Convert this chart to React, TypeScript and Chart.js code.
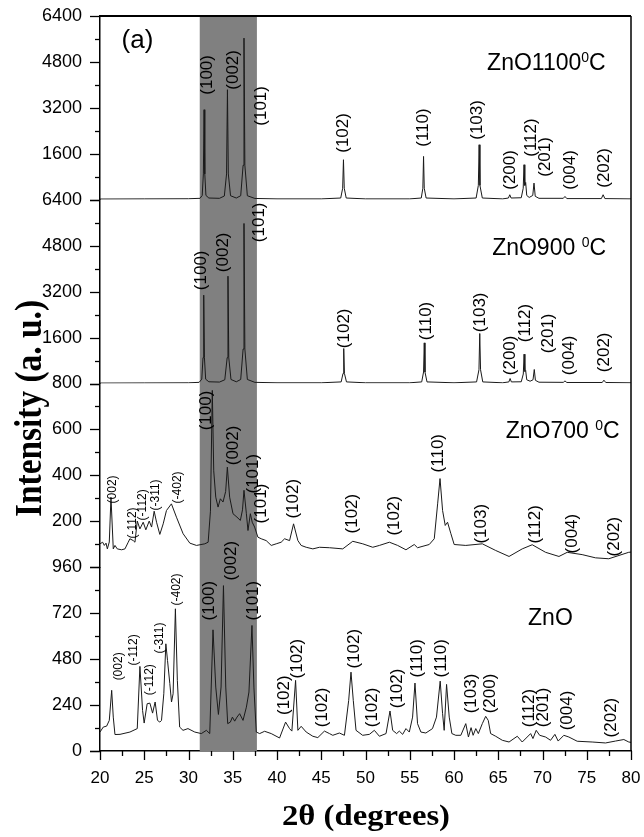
import React, { useEffect, useRef } from 'react';
import { Chart, registerables } from 'chart.js';

Chart.register(...registerables);

// ---------- axis ticks ----------
const xMajorTicks = [20, 25, 30, 35, 40, 45, 50, 55, 60, 65, 70, 75, 80];
const xMinorTicks = [22.5, 27.5, 32.5, 37.5, 42.5, 47.5, 52.5, 57.5, 62.5, 67.5, 72.5, 77.5];

const y1100Labels = [1600, 3200, 4800, 6400];
const y1100Minor = [800, 2400, 4000, 5600];
const y900Labels = [1600, 3200, 4800, 6400];
const y900Minor = [800, 2400, 4000, 5600];
const y700Labels = [200, 400, 600, 800];
const y700Minor = [100, 300, 500, 700];
const yZnOLabels = [0, 240, 480, 720, 960];
const yZnOMinor = [120, 360, 600, 840];

const bandRange = [31.27, 37.73];

// ---------- series (2theta, intensity) ----------
const zno1100: [number, number][] = [
  [20, 25], [25, 30], [30, 35], [31.3, 50], [31.55, 150], [31.68, 900], [31.76, 3136], [31.84, 900], [31.97, 150],
  [32.3, 60], [33.5, 50], [34.05, 130], [34.3, 900], [34.4, 3832], [34.5, 900], [34.75, 140], [35.4, 60],
  [35.9, 140], [36.17, 1200], [36.27, 5630], [36.37, 1200], [36.65, 140], [37.5, 45], [40, 30], [45, 30],
  [47.2, 60], [47.42, 400], [47.51, 1394], [47.6, 400], [47.82, 60], [50, 30], [55, 30],
  [56.3, 60], [56.48, 400], [56.56, 1509], [56.64, 400], [56.85, 60], [60, 30],
  [62.5, 60], [62.75, 500], [62.84, 1916], [62.93, 500], [63.2, 60], [65.5, 30],
  [66.15, 60], [66.3, 174], [66.45, 60], [67.6, 70], [67.82, 400], [67.91, 1220], [68.0, 500], [68.1, 600],
  [68.22, 150], [68.5, 80], [68.9, 150], [69.04, 580], [69.18, 120], [69.6, 50], [72.35, 50], [72.54, 115],
  [72.75, 40], [76.65, 40], [76.85, 174], [77.05, 40], [80, 30],
];

const zno900: [number, number][] = [
  [20, 15], [25, 20], [30, 25], [31.2, 40], [31.5, 150], [31.64, 900], [31.72, 3076], [31.8, 900], [31.94, 150],
  [32.3, 60], [33.5, 50], [34.1, 130], [34.37, 900], [34.46, 3738], [34.55, 900], [34.8, 140], [35.4, 60],
  [35.9, 140], [36.17, 1200], [36.27, 5574], [36.37, 1200], [36.65, 140], [37.5, 40], [40, 25], [45, 25],
  [47.25, 55], [47.46, 350], [47.54, 1219], [47.62, 350], [47.85, 55], [50, 25], [55, 25],
  [56.35, 55], [56.56, 400], [56.64, 1415], [56.72, 400], [56.95, 55], [60, 25],
  [62.55, 55], [62.82, 480], [62.91, 1742], [63.0, 480], [63.25, 55], [65.5, 25],
  [66.2, 55], [66.34, 174], [66.48, 55], [67.6, 60], [67.83, 330], [67.92, 1021], [68.01, 420], [68.1, 450],
  [68.22, 130], [68.6, 80], [68.93, 130], [69.07, 488], [69.2, 110], [69.6, 45], [72.35, 40], [72.54, 90],
  [72.75, 35], [76.75, 35], [76.94, 115], [77.15, 35], [80, 25],
];

const zno700: [number, number][] = [
  [20.0, 102], [20.3, 109], [20.49, 95], [20.68, 105], [20.83, 80], [21.05, 110], [21.24, 305], [21.5, 80],
  [21.69, 95], [21.95, 80], [22.44, 76], [22.82, 80], [23.19, 109], [23.38, 124], [23.76, 116], [23.95, 109],
  [24.21, 201], [24.51, 167], [24.88, 196], [25.18, 163], [25.56, 201], [25.83, 175], [26.12, 244], [26.39, 196],
  [26.76, 143], [27.14, 189], [27.51, 247], [28.07, 276], [28.64, 218], [29.39, 146], [30.15, 105], [30.9, 95],
  [31.84, 102], [32.22, 109], [32.48, 244], [32.69, 770], [32.85, 420], [33.08, 305], [33.34, 262], [33.6, 298],
  [33.9, 284], [34.2, 330], [34.39, 436], [34.65, 305], [35.03, 233], [35.48, 218], [35.86, 204], [36.1, 250],
  [36.27, 335], [36.54, 233], [36.72, 160], [36.99, 233], [37.2, 196], [37.47, 175], [37.84, 131], [38.22, 124],
  [38.78, 116], [39.35, 95], [39.91, 102], [40.47, 109], [40.86, 124], [41.42, 116], [41.87, 189], [42.36, 116],
  [42.73, 95], [43.3, 87], [44.05, 80], [44.8, 87], [45.93, 85], [47.43, 80], [48.56, 113], [49.69, 102],
  [50.82, 87], [51.57, 95], [52.7, 109], [53.63, 95], [54.57, 76], [55.51, 99], [55.88, 85], [57.2, 99],
  [57.77, 124], [58.15, 276], [58.42, 386], [58.71, 247], [59.01, 182], [59.27, 196], [59.65, 146], [60.02, 99],
  [61.33, 95], [63.2, 102], [64.71, 73], [66.22, 47], [67.71, 80], [68.84, 98], [70.35, 65], [71.86, 47],
  [72.79, 65], [74.48, 55], [75.99, 41], [77.49, 37], [79.74, 65], [80, 66],
];

const znoRaw: [number, number][] = [
  [20.0, 99], [20.37, 125], [20.75, 130], [21.05, 160], [21.32, 317], [21.5, 177], [21.69, 86], [22.26, 87],
  [23.38, 99], [24.21, 117], [24.51, 442], [24.81, 212], [24.99, 146], [25.33, 247], [25.64, 250], [25.94, 198],
  [26.23, 256], [26.5, 160], [26.76, 151], [26.95, 160], [27.21, 299], [27.44, 560], [27.63, 473], [27.89, 352],
  [28.08, 256], [28.26, 299], [28.52, 743], [28.74, 369], [29.0, 125], [29.38, 108], [29.94, 117], [30.71, 99],
  [31.45, 91], [32.02, 108], [32.4, 91], [32.77, 633], [33.08, 334], [33.38, 191], [33.68, 334], [33.95, 864],
  [34.21, 334], [34.43, 143], [34.73, 151], [34.96, 177], [35.22, 156], [35.48, 177], [35.78, 195], [36.16, 160],
  [36.54, 229], [36.83, 308], [37.17, 656], [37.39, 334], [37.66, 99], [38.04, 91], [38.6, 103], [39.35, 91],
  [40.29, 68], [40.97, 151], [41.42, 117], [41.68, 104], [42.1, 369], [42.36, 108], [42.73, 129], [43.3, 99],
  [44.05, 77], [44.61, 70], [45.36, 104], [45.93, 91], [46.3, 82], [47.05, 94], [47.62, 82], [48.1, 264],
  [48.36, 412], [48.62, 264], [48.93, 108], [49.68, 82], [50.44, 87], [51.0, 108], [51.57, 77], [52.32, 91],
  [52.77, 209], [53.07, 108], [53.52, 91], [53.82, 104], [54.2, 87], [54.57, 117], [54.95, 99], [55.32, 177],
  [55.59, 355], [55.88, 143], [56.26, 99], [56.82, 94], [57.57, 117], [58.02, 177], [58.44, 365], [58.71, 195],
  [58.89, 108], [59.16, 348], [59.46, 177], [59.76, 91], [60.2, 82], [60.77, 82], [61.33, 143], [61.63, 73],
  [61.93, 122], [62.16, 82], [62.46, 117], [62.75, 91], [63.2, 143], [63.58, 181], [63.87, 160], [64.14, 91],
  [64.71, 77], [65.46, 56], [66.22, 47], [67.15, 77], [67.71, 47], [68.66, 91], [68.92, 65], [69.29, 108],
  [69.68, 82], [70.35, 73], [70.91, 56], [71.4, 87], [71.77, 52], [72.41, 82], [72.98, 73], [73.92, 51],
  [75.61, 47], [77.12, 42], [78.25, 52], [79.19, 60], [79.75, 47], [80, 45],
];

// ---------- annotations: [2theta, intensity at text start, text, small] ----------
const labels1100: [number, number, string, boolean][] = [
  [32.09, 3658, '(100)', false], [35.03, 3832, '(002)', false], [38.23, 2578, '(101)', false],
  [47.54, 1637, '(102)', false], [56.53, 1847, '(110)', false], [62.65, 2090, '(103)', false],
  [66.41, 348, '(200)', false], [68.78, 1498, '(112)', false], [70.36, 801, '(201)', false],
  [73.18, 348, '(004)', false], [76.93, 418, '(202)', false],
];
const labels900: [number, number, string, boolean][] = [
  [31.45, 3251, '(100)', false], [33.98, 3878, '(002)', false], [38.04, 4923, '(101)', false],
  [47.62, 1230, '(102)', false], [56.9, 1509, '(110)', false], [63.02, 1787, '(103)', false],
  [66.41, 289, '(200)', false], [68.03, 1439, '(112)', false], [70.65, 1056, '(201)', false],
  [72.98, 289, '(004)', false], [76.93, 394, '(202)', false],
];
const labels700: [number, number, string, boolean][] = [
  [21.43, 278, '(002)', true], [23.68, 125, '(-112)', true], [24.8, 204, '(-112)', true],
  [26.31, 247, '(-311)', true], [28.83, 278, '(-402)', true],
  [32.02, 596, '(100)', false], [35.02, 444, '(002)', false], [37.27, 321, '(101)', false],
  [38.22, 191, '(101)', false], [41.87, 212, '(102)', false], [48.56, 147, '(102)', false],
  [53.26, 138, '(102)', false], [58.24, 413, '(110)', false], [63.13, 103, '(103)', false],
  [69.15, 103, '(112)', false], [73.35, 60, '(004)', false], [78.06, 47, '(202)', false],
];
const labelsZnO: [number, number, string, boolean][] = [
  [22.06, 369, '(002)', true], [23.75, 447, '(-112)', true], [25.64, 291, '(-112)', true],
  [26.76, 509, '(-311)', true], [28.71, 760, '(-402)', true],
  [32.32, 682, '(100)', false], [34.84, 891, '(002)', false], [37.28, 682, '(101)', false],
  [40.86, 188, '(102)', false], [42.24, 379, '(102)', false], [45.17, 124, '(102)', false],
  [48.75, 431, '(102)', false], [50.8, 124, '(102)', false], [53.63, 223, '(102)', false],
  [55.81, 384, '(110)', false], [58.51, 384, '(110)', false], [61.9, 197, '(103)', false],
  [64.15, 197, '(200)', false], [68.48, 124, '(112)', false], [70.06, 124, '(201)', false],
  [72.8, 108, '(004)', false], [77.79, 71, '(202)', false],
];

// panel names: [axis, 2theta, intensity, text, superscript, after]
const panelNames: [string, number, number, string, string, string][] = [
  ['y1100', 63.74, 4529, 'ZnO1100', '0', 'C'],
  ['y900', 64.31, 4470, 'ZnO900 ', '0', 'C'],
  ['y700', 65.85, 561, 'ZnO700 ', '0', 'C'],
  ['yZnO', 68.37, 656, 'ZnO', '', ''],
];
const figureTag = { axis: 'y1100', x: 22.44, y: 5296, text: '(a)' };
const xTitle = '2θ (degrees)';
const yTitle = 'Intensity (a. u.)';

const SANS = "'Liberation Sans', Arial, sans-serif";
const SERIF = "'Liberation Serif', 'Times New Roman', serif";
const LINE = '#1a1a1a';

const panels = [
  { id: 'y1100', max: 6400, labels: y1100Labels, minor: y1100Minor, weight: 4, data: zno1100, hkl: labels1100 },
  { id: 'y900', max: 6400, labels: y900Labels, minor: y900Minor, weight: 3, data: zno900, hkl: labels900 },
  { id: 'y700', max: 800, labels: y700Labels, minor: y700Minor, weight: 2, data: zno700, hkl: labels700 },
  { id: 'yZnO', max: 960, labels: yZnOLabels, minor: yZnOMinor, weight: 1, data: znoRaw, hkl: labelsZnO },
];

function zeroPadding(s: any) {
  s.paddingTop = 0;
  s.paddingBottom = 0;
  s.paddingLeft = 0;
  s.paddingRight = 0;
}

function drawScaledText(ctx: CanvasRenderingContext2D, text: string, x: number, y: number, rot: number, font: string, targetLen: number) {
  ctx.save();
  ctx.font = font;
  const w = ctx.measureText(text).width;
  ctx.translate(x, y);
  ctx.rotate(rot);
  ctx.scale(targetLen / w, 1);
  ctx.textAlign = 'center';
  ctx.textBaseline = 'alphabetic';
  ctx.fillText(text, 0, 0);
  ctx.restore();
}

const overlayPlugin = {
  id: 'overlay',
  beforeDatasetsDraw(chart: any) {
    const { ctx, chartArea: a, scales } = chart;
    const x0 = scales.x.getPixelForValue(bandRange[0]);
    const x1 = scales.x.getPixelForValue(bandRange[1]);
    ctx.save();
    ctx.fillStyle = 'rgb(128,128,128)';
    ctx.fillRect(x0, a.top, x1 - x0, a.bottom - a.top);
    ctx.restore();
  },
  afterDraw(chart: any) {
    const { ctx, chartArea: a, scales } = chart;
    ctx.save();
    ctx.strokeStyle = '#000';
    // frame top & right
    ctx.lineWidth = 2;
    ctx.beginPath();
    ctx.moveTo(a.left - 1, a.top);
    ctx.lineTo(a.right, a.top);
    ctx.stroke();
    ctx.lineWidth = 1.5;
    ctx.beginPath();
    ctx.moveTo(a.right, a.top);
    ctx.lineTo(a.right, a.bottom);
    ctx.stroke();
    // x ticks
    ctx.lineWidth = 1.3;
    const xs = scales.x;
    for (const v of xMajorTicks) {
      const px = Math.round(xs.getPixelForValue(v)) + 0.5;
      ctx.beginPath(); ctx.moveTo(px, a.bottom); ctx.lineTo(px, a.bottom + 9); ctx.stroke();
    }
    for (const v of xMinorTicks) {
      const px = Math.round(xs.getPixelForValue(v)) + 0.5;
      ctx.beginPath(); ctx.moveTo(px, a.bottom); ctx.lineTo(px, a.bottom + 5); ctx.stroke();
    }
    // y ticks
    for (const p of panels) {
      const s = scales[p.id];
      for (const v of [0, ...p.labels]) {
        const py = Math.round(s.getPixelForValue(v)) + 0.5;
        ctx.beginPath(); ctx.moveTo(a.left - 10, py); ctx.lineTo(a.left, py); ctx.stroke();
      }
      for (const v of p.minor) {
        const py = Math.round(s.getPixelForValue(v)) + 0.5;
        ctx.beginPath(); ctx.moveTo(a.left - 5, py); ctx.lineTo(a.left, py); ctx.stroke();
      }
    }
    // hkl labels
    ctx.fillStyle = '#000';
    for (const p of panels) {
      const s = scales[p.id];
      for (const [xv, yv, text, small] of p.hkl) {
        ctx.save();
        ctx.translate(xs.getPixelForValue(xv), s.getPixelForValue(yv));
        ctx.rotate(-Math.PI / 2);
        ctx.font = small ? `12px ${SANS}` : `17px ${SANS}`;
        ctx.textAlign = 'left';
        ctx.textBaseline = 'middle';
        ctx.fillText(text, 0, 0);
        ctx.restore();
      }
    }
    // panel names
    for (const [axis, xv, yv, text, sup, after] of panelNames) {
      const s = scales[axis];
      let px = xs.getPixelForValue(xv);
      const py = s.getPixelForValue(yv);
      ctx.textAlign = 'left';
      ctx.textBaseline = 'alphabetic';
      ctx.font = `23px ${SANS}`;
      ctx.fillText(text, px, py);
      px += ctx.measureText(text).width;
      if (sup) {
        ctx.font = `14px ${SANS}`;
        ctx.fillText(sup, px, py - 8);
        px += ctx.measureText(sup).width;
        ctx.font = `23px ${SANS}`;
        ctx.fillText(after, px, py);
      }
    }
    // (a)
    ctx.font = `26px ${SANS}`;
    ctx.textAlign = 'left';
    ctx.textBaseline = 'alphabetic';
    ctx.fillText(figureTag.text, xs.getPixelForValue(figureTag.x), scales[figureTag.axis].getPixelForValue(figureTag.y));
    // axis titles
    drawScaledText(ctx, xTitle, 366, 825, 0, `bold 30px ${SERIF}`, 168);
    drawScaledText(ctx, yTitle, 41, 408.5, -Math.PI / 2, `bold 37px ${SERIF}`, 217);
    ctx.restore();
  },
};

export default function App() {
  const ref = useRef<HTMLCanvasElement | null>(null);
  useEffect(() => {
    if (!ref.current) return;
    const yScales: any = {};
    for (const p of panels) {
      yScales[p.id] = {
        type: 'linear',
        position: 'left',
        stack: 'panels',
        stackWeight: 1,
        weight: p.weight,
        min: 0,
        max: p.max,
        afterBuildTicks: (s: any) => { s.ticks = p.labels.map((v) => ({ value: v })); },
        afterFit: (s: any) => { s.width = 92; zeroPadding(s); },
        ticks: {
          autoSkip: false,
          padding: 18,
          color: '#000',
          font: { family: SANS, size: 18 },
          callback: (v: any) => String(v),
        },
        grid: { display: false, drawTicks: false },
        border: { display: true, color: '#000', width: 1.5 },
      };
    }
    const chart = new Chart(ref.current, {
      type: 'line',
      data: {
        datasets: panels.map((p) => ({
          label: p.id,
          data: p.data.map(([x, y]) => ({ x, y })),
          yAxisID: p.id,
          borderColor: LINE,
          borderWidth: 1,
          pointRadius: 0,
          fill: false,
          tension: 0,
        })),
      },
      options: {
        animation: false,
        responsive: false,
        devicePixelRatio: 1,
        events: [],
        layout: { padding: { left: 8, right: 13, top: 16, bottom: 0 } },
        plugins: { legend: { display: false }, tooltip: { enabled: false }, title: { display: false } },
        scales: {
          x: {
            type: 'linear',
            min: 20,
            max: 80,
            afterBuildTicks: (s: any) => { s.ticks = xMajorTicks.map((v) => ({ value: v })); },
            afterFit: (s: any) => { s.height = 86; zeroPadding(s); },
            ticks: {
              autoSkip: false,
              maxRotation: 0,
              padding: 17,
              color: '#000',
              font: { family: SANS, size: 17 },
              callback: (v: any) => String(v),
            },
            grid: { display: false, drawTicks: false },
            border: { display: true, color: '#000', width: 1.5 },
          },
          ...yScales,
        },
      } as any,
      plugins: [overlayPlugin],
    });
    return () => chart.destroy();
  }, []);
  return (
    <div style={{ position: 'absolute', left: 0, top: 0, width: 644, height: 837, background: '#fff' }}>
      <canvas ref={ref} width={644} height={837} />
    </div>
  );
}
